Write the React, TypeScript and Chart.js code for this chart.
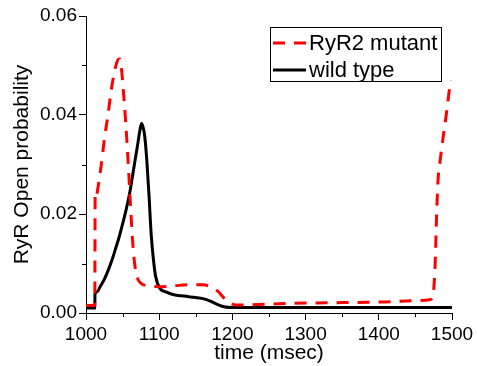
import React, { useEffect, useRef } from "react";
import { Chart, registerables } from "chart.js";

Chart.register(...registerables);

const mutantTime = [1000, 1012, 1012.5, 1014, 1016, 1020, 1025, 1030, 1035, 1040, 1044, 1046, 1048, 1051, 1054, 1057, 1060, 1063, 1066, 1070, 1075, 1085, 1100, 1120, 1140, 1160, 1170, 1180, 1190, 1200, 1210, 1250, 1300, 1350, 1400, 1450, 1470, 1474, 1477, 1479, 1481, 1484, 1488, 1493, 1497, 1499];
const mutantValues = [0.0015, 0.0015, 0.024, 0.0235, 0.025, 0.029, 0.035, 0.040, 0.0455, 0.0495, 0.0512, 0.0513, 0.050, 0.045, 0.039, 0.032, 0.024, 0.016, 0.0105, 0.0072, 0.006, 0.0055, 0.0053, 0.0055, 0.0057, 0.0057, 0.0053, 0.0044, 0.0028, 0.0018, 0.0016, 0.0018, 0.002, 0.0021, 0.0022, 0.0025, 0.0027, 0.0035, 0.010, 0.020, 0.027, 0.031, 0.0356, 0.041, 0.0457, 0.047];

const wildTime = [1000, 1012, 1012.3, 1015, 1020, 1025, 1030, 1035, 1040, 1045, 1050, 1055, 1060, 1065, 1070, 1074, 1076, 1078, 1080, 1083, 1086, 1089, 1092, 1095, 1100, 1110, 1120, 1140, 1160, 1170, 1180, 1190, 1200, 1300, 1400, 1500];
const wildValues = [0.001, 0.001, 0.0038, 0.0043, 0.0055, 0.0068, 0.0085, 0.0105, 0.0128, 0.0152, 0.018, 0.021, 0.0245, 0.029, 0.0335, 0.0372, 0.0383, 0.0375, 0.036, 0.031, 0.024, 0.016, 0.011, 0.0075, 0.0052, 0.0042, 0.0037, 0.0033, 0.0029, 0.0024, 0.0017, 0.0012, 0.0011, 0.0011, 0.0011, 0.0011];

const seriesLabels = ["RyR2 mutant", "wild type"];
const xMajorTicks = [1000, 1100, 1200, 1300, 1400, 1500];
const xMinorTicks = [1050, 1150, 1250, 1350, 1450];
const yMajorTicks = [0, 0.02, 0.04, 0.06];
const yMinorTicks = [0.01, 0.03, 0.05];

const FONT = "'Liberation Sans', Arial, sans-serif";

const minorTicksPlugin = {
  id: "minorTicks",
  afterDraw(chart: any) {
    const ctx = chart.ctx;
    const xs = chart.scales.x;
    const ys = chart.scales.y;
    const area = chart.chartArea;
    ctx.save();
    ctx.strokeStyle = "#000";
    ctx.lineWidth = 1;
    ctx.beginPath();
    xMinorTicks.forEach((v) => {
      const px = Math.round(xs.getPixelForValue(v)) + 0.5;
      ctx.moveTo(px, area.bottom);
      ctx.lineTo(px, area.bottom + 4);
    });
    yMinorTicks.forEach((v) => {
      const py = Math.round(ys.getPixelForValue(v)) + 0.5;
      ctx.moveTo(area.left, py);
      ctx.lineTo(area.left - 4, py);
    });
    ctx.stroke();
    ctx.restore();
  },
};

const boxLegendPlugin = {
  id: "boxLegend",
  afterDraw(chart: any) {
    const ctx = chart.ctx;
    const area = chart.chartArea;
    const left = area.left + 184;
    const top = area.top + 11;
    const w = 171;
    const h = 54;
    ctx.save();
    ctx.fillStyle = "#fff";
    ctx.fillRect(left, top, w, h);
    ctx.strokeStyle = "#000";
    ctx.lineWidth = 1;
    ctx.strokeRect(left + 0.5, top + 0.5, w, h);
    ctx.font = `22px ${FONT}`;
    ctx.textBaseline = "middle";
    ctx.textAlign = "left";
    chart.data.datasets.forEach((ds: any, i: number) => {
      const cy = top + 16 + i * 27;
      ctx.beginPath();
      ctx.strokeStyle = ds.borderColor;
      ctx.lineWidth = ds.borderWidth;
      ctx.setLineDash(ds.borderDash || []);
      ctx.moveTo(left + 3, cy);
      ctx.lineTo(left + 36, cy);
      ctx.stroke();
      ctx.setLineDash([]);
      ctx.fillStyle = "#000";
      ctx.fillText(ds.label, left + 39, cy + 1);
    });
    ctx.restore();
  },
};

export default function App() {
  const canvasRef = useRef<HTMLCanvasElement | null>(null);

  useEffect(() => {
    if (!canvasRef.current) return;
    const chart = new Chart(canvasRef.current, {
      type: "line",
      data: {
        datasets: [
          {
            label: seriesLabels[0],
            data: mutantTime.map((t, i) => ({ x: t, y: mutantValues[i] })),
            borderColor: "#ff0000",
            borderWidth: 3,
            borderDash: [12, 9],
            pointRadius: 0,
            cubicInterpolationMode: "monotone",
            fill: false,
          },
          {
            label: seriesLabels[1],
            data: wildTime.map((t, i) => ({ x: t, y: wildValues[i] })),
            borderColor: "#000000",
            borderWidth: 3,
            pointRadius: 0,
            cubicInterpolationMode: "monotone",
            fill: false,
          },
        ],
      },
      options: {
        animation: false,
        responsive: false,
        devicePixelRatio: 1,
        layout: { padding: { left: 0, top: 16, right: 26, bottom: 0 } },
        plugins: {
          legend: { display: false },
          tooltip: { enabled: false },
        },
        scales: {
          x: {
            type: "linear",
            min: 1000,
            max: 1500,
            afterBuildTicks: (scale: any) => {
              scale.ticks = xMajorTicks.map((v) => ({ value: v }));
            },
            afterFit: (scale: any) => {
              scale.height = 53;
            },
            border: { display: true, color: "#000", width: 1 },
            grid: { drawOnChartArea: false, drawTicks: true, tickLength: 7, color: "#000", tickColor: "#000" },
            ticks: {
              color: "#000",
              font: { family: FONT, size: 19 },
              padding: 3,
              maxRotation: 0,
              autoSkip: false,
              callback: (v: any) => String(v),
            },
            title: {
              display: true,
              text: "time (msec)",
              color: "#000",
              font: { family: FONT, size: 21 },
              padding: { top: 0, bottom: 0 },
            },
          },
          y: {
            type: "linear",
            min: 0,
            max: 0.06,
            afterBuildTicks: (scale: any) => {
              scale.ticks = yMajorTicks.map((v) => ({ value: v }));
            },
            afterFit: (scale: any) => {
              scale.width = 86;
            },
            border: { display: true, color: "#000", width: 1 },
            grid: { drawOnChartArea: false, drawTicks: true, tickLength: 7, color: "#000", tickColor: "#000" },
            ticks: {
              color: "#000",
              font: { family: FONT, size: 19 },
              padding: 2,
              autoSkip: false,
              callback: (v: any) => Number(v).toFixed(2),
            },
            title: {
              display: true,
              text: "RyR Open probability",
              color: "#000",
              font: { family: FONT, size: 21 },
              padding: { top: 10, bottom: 0 },
            },
          },
        },
      },
      plugins: [minorTicksPlugin, boxLegendPlugin],
    });
    return () => chart.destroy();
  }, []);

  return (
    <div style={{ position: "absolute", left: 0, top: 0, width: 478, height: 366, background: "#fff" }}>
      <canvas ref={canvasRef} width={478} height={366} />
    </div>
  );
}
